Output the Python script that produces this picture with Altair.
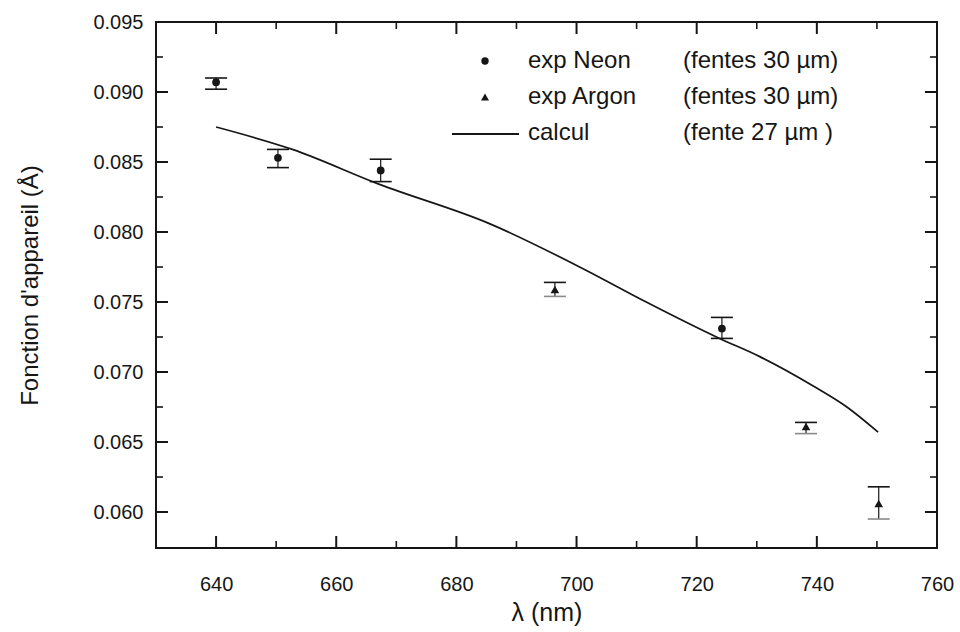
import altair as alt
import pandas as pd

# ---------------- data ----------------
neon_wl = [640.0, 650.3, 667.4, 724.2]
neon_val = [0.0907, 0.0853, 0.0844, 0.0731]
neon_lo = [0.0902, 0.0846, 0.0836, 0.0724]
neon_hi = [0.0910, 0.0859, 0.0852, 0.0739]

argon_wl = [696.4, 738.2, 750.3]
argon_val = [0.0759, 0.0661, 0.0606]
argon_lo = [0.0754, 0.0656, 0.0595]
argon_hi = [0.0764, 0.0664, 0.0618]

calc_wl = [640.0, 652.7, 667.2, 685.5, 701.0, 711.6, 723.8, 730.5, 739.4, 745.0, 750.2]
calc_val = [0.0875, 0.0859, 0.0834, 0.0806, 0.0774, 0.0750, 0.0724, 0.0711, 0.0690, 0.0675, 0.0657]

x_range = [630, 760]
y_range = [0.05743, 0.095]
x_major = [640, 660, 680, 700, 720, 740]
x_minor = [650, 670, 690, 710, 730, 750]
x_labels = [640, 660, 680, 700, 720, 740, 760]
y_major = [0.060, 0.065, 0.070, 0.075, 0.080, 0.085, 0.090]
y_minor = [0.0625, 0.0675, 0.0725, 0.0775, 0.0825, 0.0875, 0.0925]
y_labels = [0.060, 0.065, 0.070, 0.075, 0.080, 0.085, 0.090, 0.095]

legend_names = ["exp Neon", "exp Argon", "calcul"]
legend_slits = ["(fentes 30 \u00b5m)", "(fentes 30 \u00b5m)", "(fente 27 \u00b5m )"]

x_title = "\u03bb (nm)"
y_title = "Fonction d'appareil (\u00c5)"

# ---------------- styling ----------------
W, H = 781, 526
FONT = "Liberation Sans"
INK = "#161616"
FADED = "#8a8a8a"
TICK = INK

xs = alt.Scale(domain=x_range, nice=False, zero=False)
ys = alt.Scale(domain=y_range, nice=False, zero=False)

x_axis = alt.Axis(values=x_labels, format="d", labelFontSize=20, labelPadding=26,
                  labelFlush=False, labelOverlap=False, titleFontSize=25,
                  titleY=64, titleBaseline="middle", titleFontWeight="normal")
y_axis = alt.Axis(values=y_labels, format=".3f", labelFontSize=20, labelPadding=13,
                  labelOverlap=False, titleFontSize=24, titleX=-126, titleY=H / 2,
                  titleBaseline="middle", titleFontWeight="normal")


def X(field):
    return alt.X(f"{field}:Q", scale=xs, axis=x_axis, title=x_title)


def Y(field):
    return alt.Y(f"{field}:Q", scale=ys, axis=y_axis, title=y_title)


neon = pd.DataFrame(dict(wl=neon_wl, val=neon_val, lo=neon_lo, hi=neon_hi))
argon = pd.DataFrame(dict(wl=argon_wl, val=argon_val, lo=argon_lo, hi=argon_hi))
calc = pd.DataFrame(dict(wl=calc_wl, val=calc_val))

layers = []

# inward ticks on all four sides: rules anchored on the frame edge, offset inwards
for vals, ln, sw in ((x_major, 12, 2), (x_minor, 7, 1.6)):
    for edge, off in ((y_range[0], -ln), (y_range[1], ln)):
        df = pd.DataFrame({"wl": vals, "val": [edge] * len(vals)})
        layers.append(alt.Chart(df).mark_rule(color=TICK, strokeWidth=sw, y2Offset=off).encode(
            x=X("wl"), y=Y("val"), y2="val"))
for vals, ln, sw in ((y_major, 12, 2), (y_minor, 7, 1.6)):
    for edge, off in ((x_range[0], ln), (x_range[1], -ln)):
        df = pd.DataFrame({"wl": [edge] * len(vals), "val": vals})
        layers.append(alt.Chart(df).mark_rule(color=TICK, strokeWidth=sw, x2Offset=off).encode(
            x=X("wl"), x2="wl", y=Y("val")))

# calculated curve
layers.append(alt.Chart(calc).mark_line(color=INK, strokeWidth=1.7, interpolate="monotone").encode(
    x=X("wl"), y=Y("val")))

# error bars + caps
for df, lo_col in ((neon, INK), (argon, FADED)):
    layers.append(alt.Chart(df).mark_rule(color=INK, strokeWidth=1.2).encode(
        x=X("wl"), y=Y("lo"), y2="hi"))
    layers.append(alt.Chart(df).mark_rule(color=INK, strokeWidth=1.6, xOffset=-11, x2Offset=11).encode(
        x=X("wl"), x2="wl", y=Y("hi")))
    layers.append(alt.Chart(df).mark_rule(color=lo_col, strokeWidth=1.6, xOffset=-11, x2Offset=11).encode(
        x=X("wl"), x2="wl", y=Y("lo")))

layers.append(alt.Chart(neon).mark_point(shape="circle", filled=True, size=60, color=INK, opacity=1).encode(
    x=X("wl"), y=Y("val")))
layers.append(alt.Chart(argon).mark_point(shape="triangle-up", filled=True, size=75, color=INK, opacity=1).encode(
    x=X("wl"), y=Y("val")))

# legend (drawn by hand, inside the plot)
row_y = [39, 75, 111]
one = pd.DataFrame({"k": [0]})
layers.append(alt.Chart(one).mark_point(shape="circle", filled=True, size=55, color=INK, opacity=1).encode(
    x=alt.value(329), y=alt.value(row_y[0])))
layers.append(alt.Chart(one).mark_point(shape="triangle-up", filled=True, size=65, color=INK, opacity=1).encode(
    x=alt.value(329), y=alt.value(row_y[1])))
layers.append(alt.Chart(one).mark_rule(color=INK, strokeWidth=1.8).encode(
    x=alt.value(296), x2=alt.value(363), y=alt.value(row_y[2] + 1)))
for i in range(3):
    rowdf = pd.DataFrame({"name": [legend_names[i]], "slit": [legend_slits[i]]})
    layers.append(alt.Chart(rowdf).mark_text(font=FONT, fontSize=24, color=INK, align="left",
                                             baseline="middle").encode(
        x=alt.value(372), y=alt.value(row_y[i]), text="name:N"))
    layers.append(alt.Chart(rowdf).mark_text(font=FONT, fontSize=24, color=INK, align="left",
                                             baseline="middle").encode(
        x=alt.value(527), y=alt.value(row_y[i]), text="slit:N"))

chart = alt.layer(*layers).properties(
    width=W, height=H,
    autosize=alt.AutoSizeParams(type="none"),
    padding={"left": 156, "top": 22, "right": 23, "bottom": 84},
    background="white",
).configure_view(
    stroke=INK, strokeWidth=2
).configure_axis(
    labelFont=FONT, titleFont=FONT, labelColor=INK, titleColor=INK,
    grid=False, domain=False, ticks=False, tickSize=0
)

chart.save("out.html", embed_options={"renderer": "svg", "actions": False})
